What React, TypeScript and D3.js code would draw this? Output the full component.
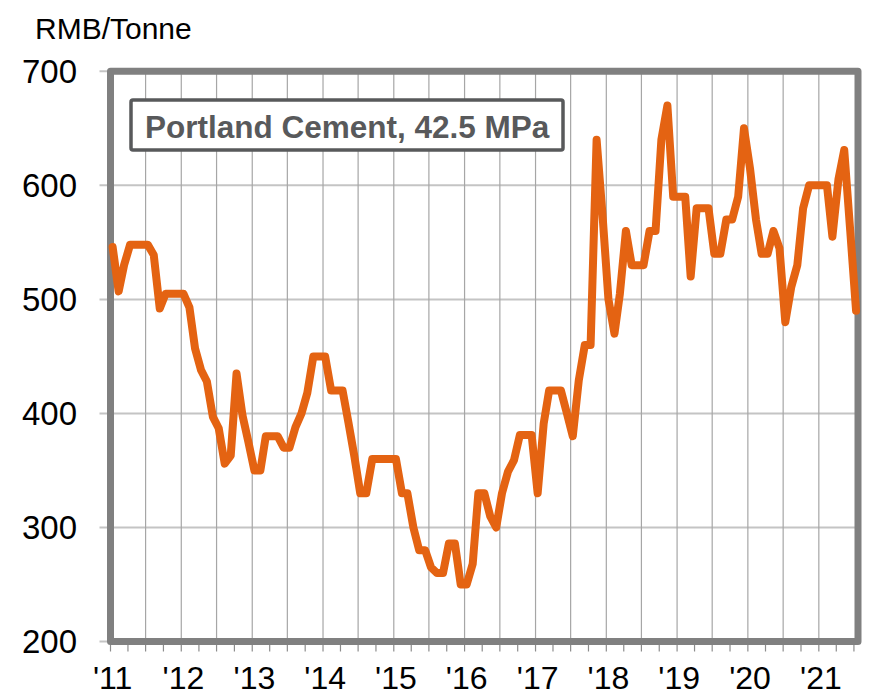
import { useRef, useEffect } from "react";
import * as d3 from "d3";

// monthly average price, RMB per tonne, Jan 2011 - Jul 2021
const prices2011 = [546, 507, 530, 548, 548, 548, 548, 539, 492, 505, 505, 505];
const prices2012 = [505, 493, 457, 438, 428, 397, 387, 356, 363, 435, 398, 375];
const prices2013 = [350, 350, 380, 380, 380, 370, 370, 388, 400, 418, 450, 450];
const prices2014 = [450, 420, 420, 420, 392, 362, 330, 330, 360, 360, 360, 360];
const prices2015 = [360, 330, 330, 300, 280, 280, 265, 260, 260, 286, 286, 250];
const prices2016 = [250, 268, 330, 330, 310, 300, 330, 349, 359, 381, 381, 381];
const prices2017 = [330, 391, 420, 420, 420, 400, 380, 429, 460, 460, 640, 575];
const prices2018 = [500, 470, 505, 560, 530, 530, 530, 560, 560, 640, 670, 590];
const prices2019 = [590, 590, 520, 580, 580, 580, 540, 540, 570, 570, 590, 650];
const prices2020 = [615, 570, 540, 540, 560, 545, 480, 511, 530, 580, 600, 600];
const prices2021 = [600, 600, 555, 605, 631, 560, 490];

const yearLabels = ["'11", "'12", "'13", "'14", "'15", "'16", "'17", "'18", "'19", "'20", "'21"];
const yTicks = [200, 300, 400, 500, 600, 700];
const unitLabel = "RMB/Tonne";
const seriesTitle = "Portland Cement, 42.5 MPa";

const prices = [
  ...prices2011, ...prices2012, ...prices2013, ...prices2014, ...prices2015, ...prices2016,
  ...prices2017, ...prices2018, ...prices2019, ...prices2020, ...prices2021,
];

interface Point {
  date: Date;
  value: number;
}

const FONT = "'Liberation Sans', Arial, Helvetica, sans-serif";

export default function App() {
  const svgRef = useRef<SVGSVGElement>(null);

  useEffect(() => {
    if (!svgRef.current) return;
    const svg = d3.select(svgRef.current);
    svg.selectAll("*").remove();

    const left = 110.5;
    const right = 858;
    const top = 71.3;
    const bottom = 641.5;

    const data: Point[] = prices.map((value, i) => ({ date: new Date(2011, i, 12), value }));

    const x = d3
      .scaleTime()
      .domain([new Date(2011, 0, 1), new Date(2021, 6, 22)])
      .range([left, right]);
    const y = d3.scaleLinear().domain([200, 700]).range([bottom, top]);

    // horizontal grid + stubs left of the frame
    svg
      .append("g")
      .selectAll("line")
      .data(yTicks)
      .join("line")
      .attr("x1", left - 11)
      .attr("x2", right)
      .attr("y1", (d) => y(d))
      .attr("y2", (d) => y(d))
      .attr("stroke", "#c4c4c4")
      .attr("stroke-width", 2);

    // vertical grid every six months
    const halfYears = d3.timeMonth.every(6)!.range(new Date(2011, 6, 1), new Date(2021, 1, 1));
    svg
      .append("g")
      .selectAll("line")
      .data(halfYears)
      .join("line")
      .attr("x1", (d) => x(d))
      .attr("x2", (d) => x(d))
      .attr("y1", top)
      .attr("y2", bottom)
      .attr("stroke", "#a6a6a6")
      .attr("stroke-width", 1.2);

    // quarterly ticks under the frame
    const quarters = d3.timeMonth.every(3)!.range(new Date(2011, 0, 1), new Date(2021, 7, 1));
    svg
      .append("g")
      .selectAll("line")
      .data(quarters)
      .join("line")
      .attr("x1", (d) => x(d))
      .attr("x2", (d) => x(d))
      .attr("y1", bottom)
      .attr("y2", bottom + 10)
      .attr("stroke", "#8c8c8c")
      .attr("stroke-width", 1.2);

    // title box
    const box = svg.append("g");
    box
      .append("rect")
      .attr("x", 131)
      .attr("y", 100)
      .attr("width", 432)
      .attr("height", 50)
      .attr("rx", 2)
      .attr("fill", "#fff")
      .attr("stroke", "#58595b")
      .attr("stroke-width", 3.5);
    box
      .append("text")
      .attr("x", 145)
      .attr("y", 137.5)
      .attr("font-family", FONT)
      .attr("font-size", 31.5)
      .attr("font-weight", "bold")
      .attr("fill", "#58595b")
      .text(seriesTitle);

    // frame
    svg
      .append("rect")
      .attr("x", left)
      .attr("y", top)
      .attr("width", right - left)
      .attr("height", bottom - top)
      .attr("fill", "none")
      .attr("stroke", "#808080")
      .attr("stroke-width", 7)
      .attr("stroke-linejoin", "round");

    // price line
    const line = d3
      .line<Point>()
      .x((d) => x(d.date))
      .y((d) => y(d.value));
    svg
      .append("path")
      .datum(data)
      .attr("fill", "none")
      .attr("stroke", "#e46312")
      .attr("stroke-width", 8)
      .attr("stroke-linejoin", "round")
      .attr("stroke-linecap", "round")
      .attr("d", line);

    // y labels
    svg
      .append("g")
      .selectAll("text")
      .data(yTicks)
      .join("text")
      .attr("x", 77)
      .attr("y", (d) => y(d))
      .attr("dy", "0.34em")
      .attr("text-anchor", "end")
      .attr("font-family", FONT)
      .attr("font-size", 33)
      .attr("fill", "#000")
      .text((d) => d);

    // x labels, one per year
    svg
      .append("g")
      .selectAll("text")
      .data(yearLabels)
      .join("text")
      .attr("x", (_, i) => x(new Date(2011 + i, 0, 12)))
      .attr("y", 689)
      .attr("text-anchor", "middle")
      .attr("font-family", FONT)
      .attr("font-size", 32)
      .attr("fill", "#000")
      .text((d) => d);

    svg
      .append("text")
      .attr("x", 35)
      .attr("y", 39)
      .attr("font-family", FONT)
      .attr("font-size", 30)
      .attr("fill", "#000")
      .text(unitLabel);
  }, []);

  return (
    <svg
      ref={svgRef}
      width={870}
      height={700}
      style={{ position: "absolute", left: 0, top: 0, display: "block", background: "#fff" }}
    />
  );
}
